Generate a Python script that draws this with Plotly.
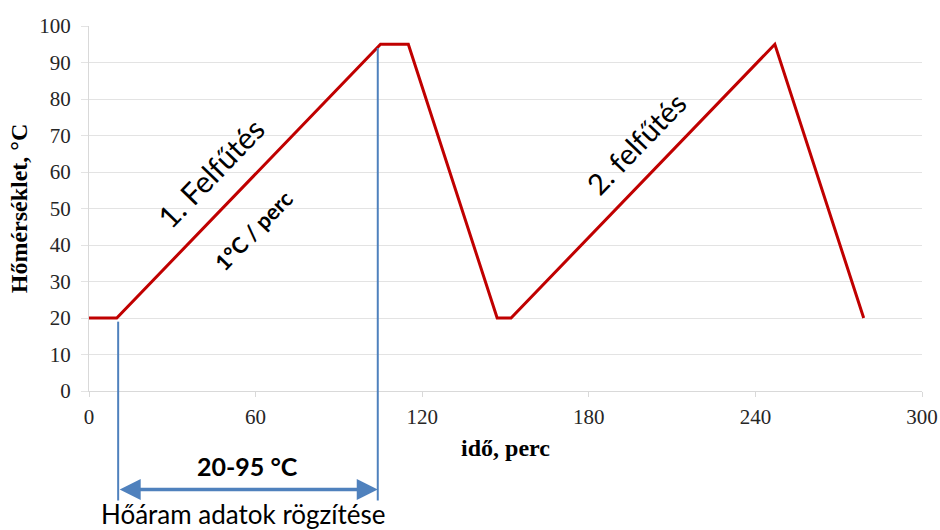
import plotly.graph_objects as go

# Data
time_min = [0, 10, 105, 115, 147, 152, 247, 279]
temp_c = [20, 20, 95, 95, 20, 20, 95, 20]

x_ticks = [0, 60, 120, 180, 240, 300]
y_ticks = [0, 10, 20, 30, 40, 50, 60, 70, 80, 90, 100]

record_start, record_end = 10.5, 104
record_start_temp, record_end_temp = 19, 94
marker_bottom_temp = -30
arrow_temp = -27

X_RANGE = [0, 300]
Y_RANGE = [0, 100]


def ypaper(v):
    return (v - Y_RANGE[0]) / (Y_RANGE[1] - Y_RANGE[0])


SERIF = "Liberation Serif"
SANS = "Lato"
BLUE = "#4F81BD"
TICKFONT = dict(family=SERIF, size=21, color="#262626")

fig = go.Figure()
fig.add_trace(go.Scatter(
    x=time_min, y=temp_c, mode="lines",
    line=dict(color="#C00000", width=3),
    showlegend=False, hoverinfo="skip",
))

for xv, yv in [(record_start, record_start_temp), (record_end, record_end_temp)]:
    fig.add_shape(type="line", xref="x", yref="paper",
                  x0=xv, x1=xv, y0=ypaper(yv), y1=ypaper(marker_bottom_temp),
                  line=dict(color=BLUE, width=2))

# double-headed arrow
fig.add_annotation(x=record_end, y=ypaper(arrow_temp), xref="x", yref="paper",
                   ax=record_start, ay=0, axref="x", ayref="pixel",
                   text="", showarrow=True, arrowside="end+start",
                   arrowhead=2, arrowsize=1.2, arrowwidth=3.5, arrowcolor=BLUE)

fig.add_annotation(x=(record_start + record_end) / 2, y=ypaper(-20.5), xref="x", yref="paper",
                   yanchor="middle", text="<b>20-95 °C</b>", showarrow=False,
                   font=dict(family=SANS, size=25, color="black"))
fig.add_annotation(x=(record_start + record_end) / 2 - 1.5, y=ypaper(-33.8), xref="x", yref="paper",
                   yanchor="middle", text="Hőáram adatok rögzítése", showarrow=False,
                   font=dict(family=SANS, size=26, color="black"))

fig.add_annotation(x=43.6, y=59.7, xref="x", yref="y", text="1. Felfűtés",
                   showarrow=False, textangle=-46,
                   font=dict(family=SANS, size=30, color="black"))
fig.add_annotation(x=59.1, y=44.1, xref="x", yref="y", text="<b>1°C / perc</b>",
                   showarrow=False, textangle=-46,
                   font=dict(family=SANS, size=22, color="black"))
fig.add_annotation(x=196.8, y=67.9, xref="x", yref="y", text="2. felfűtés",
                   showarrow=False, textangle=-46,
                   font=dict(family=SANS, size=29, color="black"))

fig.update_layout(
    width=940, height=530,
    margin=dict(l=89, r=18, t=26, b=139),
    paper_bgcolor="white", plot_bgcolor="white",
    font=dict(family=SERIF, size=21, color="#262626"),
)
fig.update_xaxes(
    range=X_RANGE, tickvals=x_ticks, showgrid=False, zeroline=False, automargin=False,
    showline=True, linecolor="#d9d9d9", linewidth=1,
    ticks="outside", ticklen=5, tickcolor="#d9d9d9", tickfont=TICKFONT, ticklabelstandoff=2,
    title=dict(text="<b>idő, perc</b>", font=dict(family=SERIF, size=24, color="black"), standoff=10),
)
fig.update_yaxes(
    range=Y_RANGE, tickvals=y_ticks, showgrid=True, gridcolor="#e3e3e3", zeroline=False, automargin=False,
    showline=True, linecolor="#d9d9d9", linewidth=1,
    ticks="outside", ticklen=7, tickcolor="#e3e3e3", tickfont=TICKFONT, ticklabelstandoff=6,
    title=dict(text="<b>Hőmérséklet, °C</b>", font=dict(family=SERIF, size=24, color="black"), standoff=4),
)

fig.write_html("out.html", config={"displayModeBar": False},
               post_script="document.body.style.margin='0';")
